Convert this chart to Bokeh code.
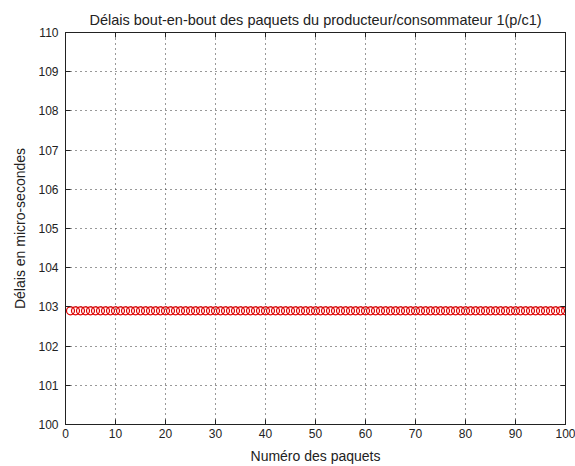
from bokeh.plotting import figure
from bokeh.models import Range1d, LinearAxis, FixedTicker
from bokeh.embed import file_html
from bokeh.resources import INLINE

title_text = "Délais bout-en-bout des paquets du producteur/consommateur 1(p/c1)"
x_label = "Numéro des paquets"
y_label = "Délais en micro-secondes"

x_ticks = [0, 10, 20, 30, 40, 50, 60, 70, 80, 90, 100]
y_ticks = [100, 101, 102, 103, 104, 105, 106, 107, 108, 109, 110]

packets = list(range(1, 101))
delays = [
    102.9, 102.9, 102.9, 102.9, 102.9, 102.9, 102.9, 102.9, 102.9, 102.9,
    102.9, 102.9, 102.9, 102.9, 102.9, 102.9, 102.9, 102.9, 102.9, 102.9,
    102.9, 102.9, 102.9, 102.9, 102.9, 102.9, 102.9, 102.9, 102.9, 102.9,
    102.9, 102.9, 102.9, 102.9, 102.9, 102.9, 102.9, 102.9, 102.9, 102.9,
    102.9, 102.9, 102.9, 102.9, 102.9, 102.9, 102.9, 102.9, 102.9, 102.9,
    102.9, 102.9, 102.9, 102.9, 102.9, 102.9, 102.9, 102.9, 102.9, 102.9,
    102.9, 102.9, 102.9, 102.9, 102.9, 102.9, 102.9, 102.9, 102.9, 102.9,
    102.9, 102.9, 102.9, 102.9, 102.9, 102.9, 102.9, 102.9, 102.9, 102.9,
    102.9, 102.9, 102.9, 102.9, 102.9, 102.9, 102.9, 102.9, 102.9, 102.9,
    102.9, 102.9, 102.9, 102.9, 102.9, 102.9, 102.9, 102.9, 102.9, 102.9,
]

FONT = "Liberation Sans"
TXT = "#222222"

p = figure(width=575, height=466, output_backend="svg", toolbar_location=None,
           x_range=Range1d(0, 100), y_range=Range1d(100, 110),
           min_border_left=65, min_border_right=10, min_border_top=32, min_border_bottom=42)

p.title.text = title_text
p.title.align = "center"
p.title.text_font = FONT
p.title.text_font_size = "14.5px"
p.title.text_font_style = "normal"
p.title.text_color = TXT
p.title.standoff = 10

p.outline_line_color = "#222222"
p.outline_line_width = 1

for ax, ticks in ((p.xaxis[0], x_ticks), (p.yaxis[0], y_ticks)):
    ax.ticker = FixedTicker(ticks=ticks)
    ax.major_tick_in = 5
    ax.major_tick_out = 0
    ax.minor_tick_in = 0
    ax.minor_tick_out = 0
    ax.axis_line_color = "#222222"
    ax.major_tick_line_color = "#222222"
    ax.major_label_text_font = FONT
    ax.major_label_text_font_size = "12px"
    ax.major_label_text_color = TXT
    ax.axis_label_text_font = FONT
    ax.axis_label_text_font_size = "14px"
    ax.axis_label_text_font_style = "normal"
    ax.axis_label_text_color = TXT

p.xaxis.axis_label = x_label
p.yaxis.axis_label = y_label
p.xaxis.major_label_standoff = 4
p.yaxis.major_label_standoff = 7
p.xaxis.axis_label_standoff = 7
p.yaxis.axis_label_standoff = 7

for loc, ticks in (("right", y_ticks), ("above", x_ticks)):
    a = LinearAxis(ticker=FixedTicker(ticks=ticks))
    a.major_tick_in = 5
    a.major_tick_out = 0
    a.minor_tick_in = 0
    a.minor_tick_out = 0
    a.major_label_text_font_size = "0px"
    a.major_label_standoff = 0
    a.axis_line_color = "#222222"
    a.major_tick_line_color = "#222222"
    p.add_layout(a, loc)

for g, ticks in ((p.xgrid[0], x_ticks), (p.ygrid[0], y_ticks)):
    g.ticker = FixedTicker(ticks=ticks)
    g.grid_line_color = "#333333"
    g.grid_line_dash = "1 4"
    g.grid_line_width = 1

p.scatter(packets, delays, marker="circle", size=8, fill_color=None,
          line_color="#dd0000", line_width=1.2)

open("out.html", "w").write(file_html(p, INLINE))
